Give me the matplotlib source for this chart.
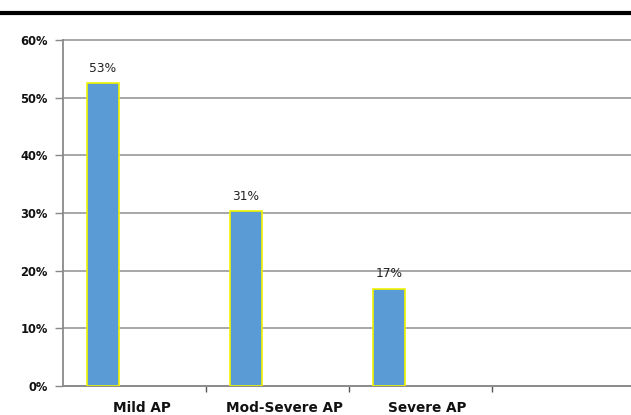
import matplotlib
matplotlib.use("Agg")
import matplotlib.pyplot as plt
from matplotlib.lines import Line2D
import matplotlib.transforms as mtransforms
import numpy as np

categories = ["Mild AP", "Mod-Severe AP", "Severe AP", ""]
values = [52.6, 30.4, 16.9]
value_labels = ["53%", "31%", "17%"]
yticks = [0, 10, 20, 30, 40, 50, 60]
ytick_labels = ["0%", "10%", "20%", "30%", "40%", "50%", "60%"]

fig = plt.figure(figsize=(6.31, 4.15), dpi=100)
ax = fig.add_axes([63/631, 1-386/415, (635-63)/631, (386-40)/415])

x = np.arange(len(values))
bars = ax.bar(x - 0.22, values, width=0.22, color="#5b9bd5",
              edgecolor="#f2f200", linewidth=1.2, zorder=3)
for xi, v, lab in zip(x, values, value_labels):
    ax.annotate(lab, (xi - 0.22, v), xytext=(0, 10.5), textcoords="offset points",
                ha="center", va="center", fontsize=8.8, color="#222222")

ax.set_xlim(-0.5, len(categories) - 0.5)
ax.set_ylim(0, 60)
ax.set_yticks(yticks)
ax.set_yticklabels(ytick_labels, fontweight="bold", fontsize=8.3, color="#111111")
ax.yaxis.grid(True, color="#a0a0a0", linewidth=1.3, zorder=0)
ax.set_axisbelow(True)

ax.set_xticks(np.arange(len(categories)))
ax.set_xticklabels(categories, fontweight="bold", fontsize=9.8, color="#111111")
ax.tick_params(axis="x", which="major", length=0, pad=11)
offset = mtransforms.ScaledTranslation(7/100, 0, fig.dpi_scale_trans)
for lbl in ax.get_xticklabels():
    lbl.set_transform(lbl.get_transform() + offset)
ax.set_xticks(np.arange(len(categories)) + 0.5, minor=True)
ax.tick_params(axis="x", which="minor", length=4, color="#555555", width=1)
ax.tick_params(axis="y", length=6, color="#888888", width=1, pad=5)

for s in ["top", "right"]:
    ax.spines[s].set_visible(False)
for s in ["left", "bottom"]:
    ax.spines[s].set_color("#8a8a8a")
    ax.spines[s].set_linewidth(1.3)

fig.canvas.draw()
for gl in ax.get_ygridlines():
    gl.set_clip_on(False)

fig.add_artist(Line2D([0, 1], [1-13/415, 1-13/415], color="black",
                      linewidth=3, transform=fig.transFigure))

fig.savefig("out.png", dpi=100)
